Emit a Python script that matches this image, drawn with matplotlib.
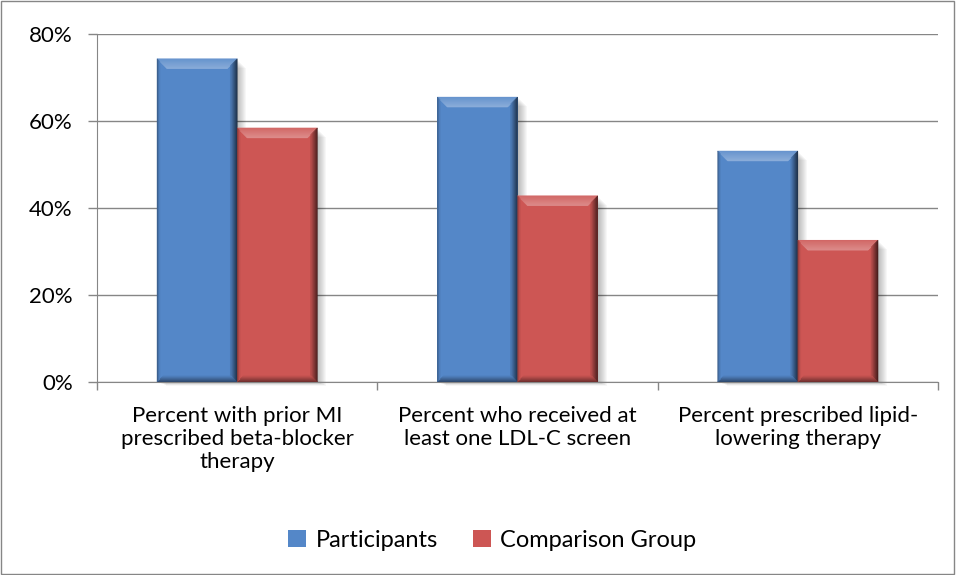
import numpy as np
import matplotlib.pyplot as plt
from matplotlib.colors import to_rgb
from matplotlib.patches import Polygon, Rectangle
from matplotlib.ticker import FuncFormatter

plt.rcParams['font.family'] = ['Lato', 'DejaVu Sans']

categories = ["Percent with prior MI\nprescribed beta-blocker\ntherapy",
              "Percent who received at\nleast one LDL-C screen",
              "Percent prescribed lipid-\nlowering therapy"]
participants = [74.3, 65.5, 53.1]
comparison = [58.4, 42.8, 32.6]
series_names = ["Participants", "Comparison Group"]

blue = "#5487C8"
red = "#CD5654"

fig = plt.figure(figsize=(9.56, 5.75), dpi=100)
ax = fig.add_axes([0.1015, 0.3357, 0.8797, 0.6052])

x = np.arange(len(categories))
w = 0.286
b1 = ax.bar(x - w / 2, participants, w, color=blue, label=series_names[0], zorder=3)
b2 = ax.bar(x + w / 2, comparison, w, color=red, label=series_names[1], zorder=3)

# size of one pixel in data units
px_x = 1 / 280.0
px_y = 80 / 348.0


def shade(c, f):
    c = np.array(to_rgb(c))
    if f > 0:
        return tuple(c + (1 - c) * f)
    return tuple(c * (1 + f))


# bevel widths (px) and shade at outer / inner edge for each side
sides = {
    'top': (10, 0.12, 0.32),
    'right': (7, -0.65, -0.12),
    'bottom': (6, -0.45, -0.08),
    'left': (3, -0.3, -0.05),
}


def bevel(bars, col):
    for p in bars:
        x0, wd, h = p.get_x(), p.get_width(), p.get_height()
        # soft shadow to the right and below
        for k in range(1, 10):
            ax.add_patch(Rectangle((x0 + k * px_x, -k * px_y * 0.4), wd, h - k * px_y * 0.6,
                                   color='black', alpha=0.03, lw=0, zorder=2, clip_on=False))
        for d in range(10):
            ox0, ox1 = x0 + d * px_x, x0 + wd - d * px_x
            oy0, oy1 = d * px_y, h - d * px_y
            ix0, ix1 = ox0 + px_x, ox1 - px_x
            iy0, iy1 = oy0 + px_y, oy1 - px_y
            quads = {
                'top': [(ox0, oy1), (ox1, oy1), (ix1, iy1), (ix0, iy1)],
                'right': [(ox1, oy1), (ox1, oy0), (ix1, iy0), (ix1, iy1)],
                'bottom': [(ox1, oy0), (ox0, oy0), (ix0, iy0), (ix1, iy0)],
                'left': [(ox0, oy0), (ox0, oy1), (ix0, iy1), (ix0, iy0)],
            }
            for s, (n, f0, f1) in sides.items():
                if d >= n:
                    continue
                f = f0 + (f1 - f0) * d / max(n - 1, 1)
                ax.add_patch(Polygon(quads[s], closed=True, color=shade(col, f),
                                     lw=0.3, zorder=4))


bevel(b1, blue)
bevel(b2, red)

ax.set_xlim(-0.5, len(categories) - 0.5)
ax.set_ylim(0, 80)
ax.set_yticks([0, 20, 40, 60, 80])
ax.yaxis.set_major_formatter(FuncFormatter(lambda v, _: f"{v:.0f}%"))
ax.grid(axis='y', color='#868686', lw=1, zorder=0)
ax.set_axisbelow(True)

ax.set_xticks(x)
ax.set_xticklabels(categories, fontsize=16, linespacing=1.2)
ax.tick_params(axis='x', length=0, pad=17)
ax.set_xticks(np.arange(len(categories) + 1) - 0.5, minor=True)
ax.tick_params(axis='x', which='minor', length=6, color='#868686', width=1)
ax.tick_params(axis='y', length=6.5, color='#868686', width=1, labelsize=16, pad=11)

for s in ['top', 'right']:
    ax.spines[s].set_visible(False)
ax.spines['left'].set_color('#868686')
ax.spines['bottom'].set_color('#868686')

leg = fig.legend(loc='center', bbox_to_anchor=(0.515, 0.06), ncol=2, frameon=False,
                 fontsize=17, handlelength=0.75, handleheight=0.75, handletextpad=0.4,
                 columnspacing=1.5)

fig.add_artist(Rectangle((0.001, 0.001), 0.997, 0.997, transform=fig.transFigure,
                         fill=False, edgecolor='#868686', lw=1))

fig.savefig("out.png", dpi=100)
